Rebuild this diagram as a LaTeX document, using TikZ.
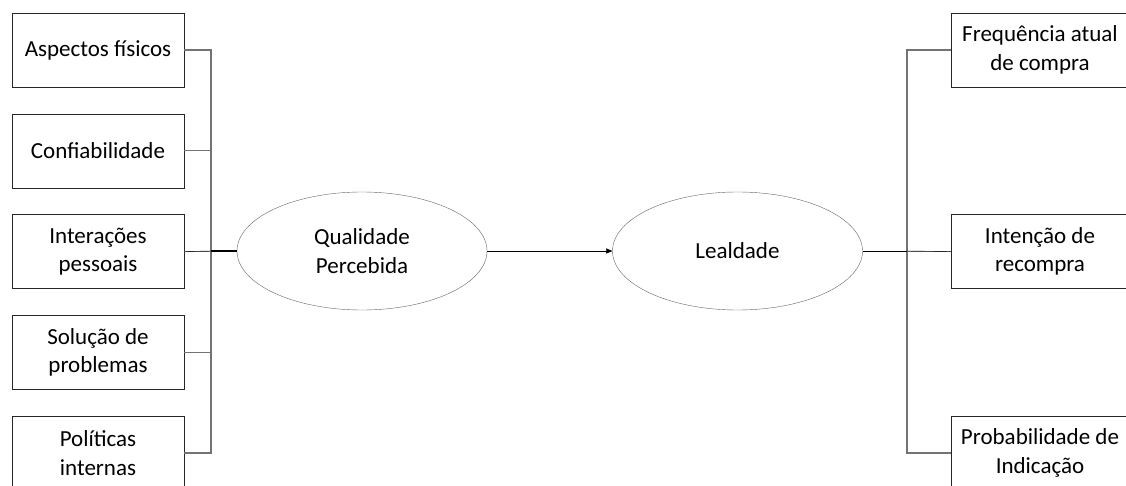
\documentclass[tikz,border=0pt]{standalone}
\usepackage{fontspec}
\setmainfont{Carlito}
\usetikzlibrary{arrows}
\usetikzlibrary{shapes.geometric}

\begin{document}
\begin{tikzpicture}[x=1pt, y=-1pt,
 caixa/.style={draw=black!85, minimum width=172pt, minimum height=74pt, inner sep=0pt, align=center, font=\fontsize{23}{28.5}\selectfont},
 elipse/.style={draw=black!60, ellipse, minimum width=250pt, minimum height=118pt, inner sep=0pt, align=center, font=\fontsize{23}{28.5}\selectfont},
 barra/.style={draw=black!55, line width=1.1pt}]
\useasboundingbox (0,0) rectangle (1126,486);
\fill[white] (0,0) rectangle (1126,486);
\coordinate (bl) at (211,251);
\coordinate (bd) at (907,251);
\node[elipse] (qp) at (362,251) {Qualidade\\Percebida};
\node[elipse] (le) at (737.5,251) {Lealdade};
\foreach \i/\t in {0/Aspectos físicos, 1/Confiabilidade, 2/Interações\\pessoais, 3/Solução de\\problemas, 4/Políticas\\internas} {
 \node[caixa] (a\i) at (98,{50+100.75*\i}) {\t};
 \draw[barra] (a\i.east) -| (bl);
}
\draw[black] (a2.east) -- (bl);
\foreach \i/\t in {0/Frequência atual\\de compra, 1/Intenção de\\recompra, 2/Probabilidade de\\Indicação} {
 \node[caixa, minimum width=178pt] (b\i) at (1040,{50+201.5*\i}) {\t};
 \draw[barra] (b\i.west) -| (bd);
}
\draw[black] (b1.west) -- (bd);
\draw[black, line width=1.6pt] (bl) -- (qp.west);
\draw[black, ->, >=triangle 45] (qp.east) -- (le.west);
\draw[black] (le.east) -- (bd);
\end{tikzpicture}
\end{document}
